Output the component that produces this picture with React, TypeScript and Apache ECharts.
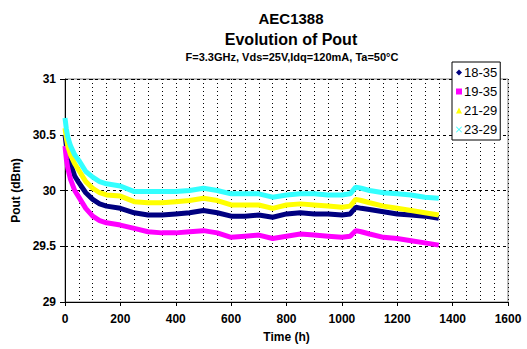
import React, { useEffect, useRef } from "react";
import * as echarts from "echarts";

const hours = [0, 5, 10, 20, 35, 50, 75, 100, 125, 150, 200, 250, 300, 350, 400, 450, 500, 550, 600, 650, 700, 750, 800, 850, 900, 950, 1000, 1030, 1050, 1070, 1100, 1150, 1200, 1250, 1300, 1350];

const s1835 = [30.50, 30.40, 30.32, 30.24, 30.13, 30.07, 29.98, 29.92, 29.88, 29.86, 29.84, 29.80, 29.78, 29.78, 29.79, 29.80, 29.82, 29.80, 29.77, 29.77, 29.78, 29.76, 29.79, 29.80, 29.79, 29.79, 29.78, 29.79, 29.85, 29.84, 29.83, 29.81, 29.79, 29.78, 29.77, 29.75];
const s1935 = [30.40, 30.28, 30.20, 30.10, 30.00, 29.94, 29.84, 29.77, 29.73, 29.71, 29.69, 29.66, 29.63, 29.62, 29.62, 29.63, 29.64, 29.62, 29.58, 29.59, 29.60, 29.57, 29.59, 29.61, 29.60, 29.59, 29.58, 29.59, 29.64, 29.63, 29.61, 29.58, 29.57, 29.55, 29.53, 29.51];
const s2129 = [30.56, 30.47, 30.40, 30.32, 30.24, 30.18, 30.08, 30.02, 29.98, 29.96, 29.95, 29.90, 29.89, 29.89, 29.90, 29.91, 29.93, 29.91, 29.87, 29.87, 29.87, 29.84, 29.87, 29.88, 29.87, 29.86, 29.85, 29.86, 29.92, 29.91, 29.89, 29.86, 29.84, 29.82, 29.80, 29.78];
const s2329 = [30.65, 30.55, 30.48, 30.40, 30.32, 30.27, 30.17, 30.12, 30.08, 30.06, 30.04, 29.99, 29.99, 29.99, 29.99, 30.00, 30.02, 30.00, 29.97, 29.97, 29.97, 29.94, 29.96, 29.97, 29.97, 29.96, 29.96, 29.97, 30.03, 30.02, 30.00, 29.98, 29.97, 29.96, 29.94, 29.93];

const seriesNames = ["18-35", "19-35", "21-29", "23-29"];
const seriesColors = ["#000080", "#ff00ff", "#ffff00", "#33ffff"];
const seriesValues = [s1835, s1935, s2129, s2329];

const titleLines = ["AEC1388", "Evolution of Pout", "F=3.3GHz, Vds=25V,Idq=120mA, Ta=50°C"];

const xPath = "path://M0,1L1,0L5,4L9,0L10,1L6,5L10,9L9,10L5,6L1,10L0,9L4,5Z";
const legendIcons = ["diamond", "rect", "triangle", xPath];

const FONT = "'Liberation Sans', Arial, sans-serif";

export default function App() {
  const ref = useRef<HTMLDivElement>(null);
  useEffect(() => {
    if (!ref.current) return;
    const chart = echarts.init(ref.current, undefined, { renderer: "svg" });
    chart.setOption({
      animation: false,
      backgroundColor: "#ffffff",
      textStyle: { fontFamily: FONT },
      grid: {
        left: 65,
        right: 19,
        top: 79,
        bottom: 47,
        show: true,
        borderColor: "#808080",
        borderWidth: 1,
        backgroundColor: "#ffffff",
      },
      graphic: [
        { type: "text", x: 291, y: 18, style: { text: titleLines[0], font: `bold 15px ${FONT}`, fill: "#000", textAlign: "center", textVerticalAlign: "middle" } },
        { type: "text", x: 291, y: 39, style: { text: titleLines[1], font: `bold 16px ${FONT}`, fill: "#000", textAlign: "center", textVerticalAlign: "middle" } },
        { type: "text", x: 292, y: 57, style: { text: titleLines[2], font: `bold 11px ${FONT}`, fill: "#000", textAlign: "center", textVerticalAlign: "middle" } },
      ],
      legend: {
        orient: "vertical",
        left: 452,
        top: 62,
        backgroundColor: "#ffffff",
        borderColor: "#000000",
        borderWidth: 1,
        padding: [4, 3, 4, 4],
        itemGap: 6,
        itemWidth: 6,
        itemHeight: 6,
        itemStyle: { borderWidth: 0 },
        textStyle: { fontSize: 13, color: "#000", fontFamily: FONT, padding: [0, 0, 0, -3] },
        data: seriesNames.map((n, i) => ({ name: n, icon: legendIcons[i] })),
      },
      xAxis: {
        type: "value",
        min: 0,
        max: 1600,
        interval: 200,
        name: "Time (h)",
        nameLocation: "middle",
        nameGap: 29,
        nameTextStyle: { fontWeight: "bold", fontSize: 12, color: "#000" },
        axisLine: { show: true, lineStyle: { color: "#000", width: 1 } },
        axisTick: { show: true, length: 4, inside: false, lineStyle: { color: "#000" } },
        axisLabel: { fontWeight: "bold", fontSize: 12, color: "#000", margin: 11, formatter: (v: number) => String(v) },
        splitLine: { show: true, lineStyle: { color: "#000", type: [1, 3], width: 1 } },
        minorTick: { show: false, splitNumber: 4 },
        minorSplitLine: { show: true, lineStyle: { color: "#000", type: [1, 3], width: 1 } },
      },
      yAxis: {
        type: "value",
        min: 29,
        max: 31,
        interval: 0.5,
        name: "Pout (dBm)",
        nameLocation: "middle",
        nameGap: 40,
        nameTextStyle: { fontWeight: "bold", fontSize: 12, color: "#000" },
        axisLine: { show: true, lineStyle: { color: "#000", width: 1 } },
        axisTick: { show: true, length: 5, lineStyle: { color: "#000" } },
        axisLabel: { fontWeight: "bold", fontSize: 12, color: "#000", margin: 9, formatter: (v: number) => String(v) },
        splitLine: { show: true, lineStyle: { color: "#000", type: [3, 3], width: 1 } },
      },
      series: seriesNames.map((n, i) => ({
        name: n,
        type: "line",
        showSymbol: false,
        symbol: legendIcons[i],
        color: seriesColors[i],
        lineStyle: { width: 5, color: seriesColors[i] },
        data: hours.map((h, j) => [h, seriesValues[i][j]]),
      })),
    });
    return () => chart.dispose();
  }, []);
  return <div ref={ref} style={{ position: "absolute", left: 0, top: 0, width: 527, height: 349 }} />;
}
